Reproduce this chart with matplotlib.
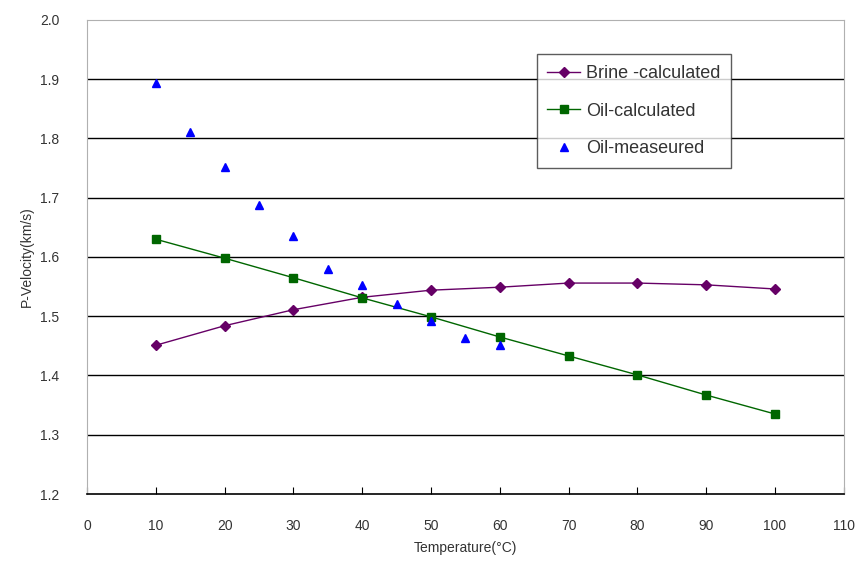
import matplotlib
matplotlib.use("Agg")
import matplotlib.pyplot as plt

temp_calc = [10, 20, 30, 40, 50, 60, 70, 80, 90, 100]
brine_calc = [1.451, 1.484, 1.511, 1.532, 1.544, 1.549, 1.556, 1.556, 1.553, 1.546]
oil_calc = [1.630, 1.598, 1.565, 1.531, 1.499, 1.465, 1.433, 1.401, 1.367, 1.335]

temp_meas = [10, 15, 20, 25, 30, 35, 40, 45, 50, 55, 60]
oil_meas = [1.894, 1.811, 1.752, 1.688, 1.635, 1.580, 1.553, 1.521, 1.492, 1.463, 1.451]

x_ticks = list(range(0, 111, 10))
y_ticks = [1.2, 1.3, 1.4, 1.5, 1.6, 1.7, 1.8, 1.9, 2.0]

plt.rcParams["font.family"] = ["Liberation Sans", "DejaVu Sans"]

fig = plt.figure(figsize=(8.63, 5.66), dpi=100)
ax = fig.add_axes([0.1008, 0.1272, 0.877, 0.8375])

# horizontal grid lines
for y in y_ticks[1:-1]:
    ax.axhline(y, color="black", linewidth=1.0, zorder=1)

ax.plot(temp_calc, brine_calc, color="#660066", marker="D", markersize=5.5,
        linewidth=1.0, label="Brine -calculated", zorder=3)
ax.plot(temp_calc, oil_calc, color="#006600", marker="s", markersize=6,
        linewidth=1.0, label="Oil-calculated", zorder=3)
ax.plot(temp_meas, oil_meas, color="#0000ff", marker="^", markersize=6,
        linestyle="none", label="Oil-measeured", zorder=4)

ax.set_xlim(0, 110)
ax.set_ylim(1.2, 2.0)
ax.set_xticks(x_ticks)
ax.set_yticks(y_ticks)
ax.set_yticklabels([f"{v:.1f}" for v in y_ticks])

ax.tick_params(axis="x", direction="in", length=5, pad=18, labelsize=10,
               labelcolor="#333333", color="black")
ax.tick_params(axis="y", length=0, pad=20, labelsize=10, labelcolor="#333333")

for side in ["top", "left", "right"]:
    ax.spines[side].set_color("#b0b0b0")
ax.spines["bottom"].set_color("black")
ax.spines["bottom"].set_linewidth(1.2)

ax.set_xlabel("Temperature(\u00b0C)", fontsize=10, color="#333333", labelpad=6)
ax.set_ylabel("P-Velocity(km/s)", fontsize=10, color="#333333", labelpad=4)

leg = ax.legend(loc="upper left", bbox_to_anchor=(0.594, 0.928), frameon=True,
                fancybox=False, edgecolor="#333333", fontsize=13,
                borderpad=0.6, labelspacing=1.15, handlelength=1.8,
                handletextpad=0.35, borderaxespad=0)
leg.get_frame().set_linewidth(1.0)
for text in leg.get_texts():
    text.set_color("#333333")

fig.savefig("out.png", dpi=100)
